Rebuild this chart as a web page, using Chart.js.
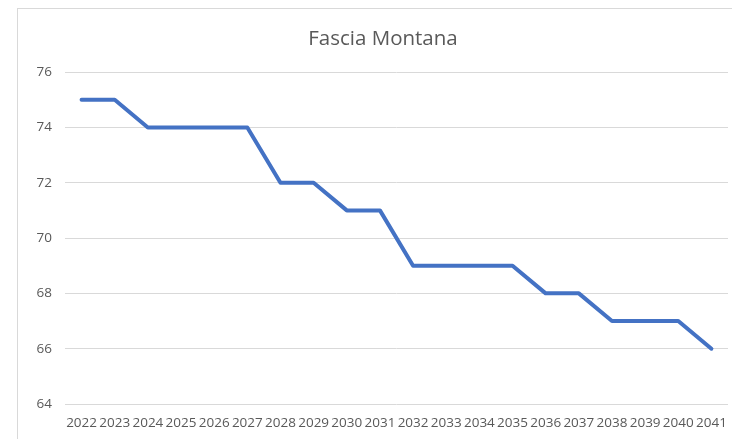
<!DOCTYPE html>
<html>
<head>
<meta charset="utf-8">
<script src="https://cdn.jsdelivr.net/npm/chart.js@4"></script>
<style>
  html, body { margin: 0; padding: 0; background: #fff; }
  #wrap { position: relative; width: 732px; height: 439px; overflow: hidden; }
  #frame { position: absolute; left: 17px; top: 8px; width: 800px; height: 500px; border: 1px solid #d9d9d9; }
  canvas { position: absolute; left: 0; top: 0; }
</style>
</head>
<body>
<div id="wrap">
  <div id="frame"></div>
  <canvas id="myChart" width="732" height="439"></canvas>
</div>
<script>
// Data
const years = ['2022', '2023', '2024', '2025', '2026', '2027', '2028', '2029', '2030', '2031',
               '2032', '2033', '2034', '2035', '2036', '2037', '2038', '2039', '2040', '2041'];
const values = [75, 75, 74, 74, 74, 74, 72, 72, 71, 71, 69, 69, 69, 69, 68, 68, 67, 67, 67, 66];
const yMin = 64;
const yMax = 76;
const yStep = 2;

const textColor = '#595959';
const gridColor = '#d9d9d9';

// centre the title over the framed area rather than the whole canvas
const titleShift = {
  id: 'titleShift',
  afterLayout(chart) {
    if (chart.titleBlock) chart.titleBlock.left = 38;
  }
};

const ctx = document.getElementById('myChart').getContext('2d');

const myChart = new Chart(ctx, {
  type: 'line',
  data: {
    labels: years,
    datasets: [{
      label: 'Fascia Montana',
      data: values,
      borderColor: '#4472C4',
      backgroundColor: '#4472C4',
      borderWidth: 4,
      pointRadius: 0,
      tension: 0,
      borderJoinStyle: 'round',
      borderCapStyle: 'round'
    }]
  },
  plugins: [titleShift],
  options: {
    responsive: false,
    animation: false,
    layout: { padding: { left: 0, right: 4, top: 27, bottom: 0 } },
    plugins: {
      legend: { display: false },
      tooltip: { enabled: false },
      title: {
        display: true,
        text: 'Fascia Montana',
        color: textColor,
        font: { family: 'Open Sans', size: 20.5, weight: 'normal' },
        padding: { top: 0, bottom: 20.5 }
      }
    },
    scales: {
      x: {
        offset: true,
        grid: { display: false, drawTicks: false },
        border: { display: false },
        ticks: {
          color: textColor,
          font: { family: 'Open Sans', size: 13.5 },
          autoSkip: false,
          maxRotation: 0,
          minRotation: 0,
          padding: 11.5
        },
        afterFit: function (axis) {
          axis.height = 35;
          axis.paddingLeft = 0;
          axis.paddingRight = 0;
        }
      },
      y: {
        min: yMin,
        max: yMax,
        grid: { color: gridColor, lineWidth: 1, drawTicks: false },
        border: { display: false },
        ticks: {
          stepSize: yStep,
          color: textColor,
          font: { family: 'Open Sans', size: 13.5 },
          padding: 13
        },
        afterFit: function (axis) { axis.width = 65; }
      }
    }
  }
});
</script>
</body>
</html>
